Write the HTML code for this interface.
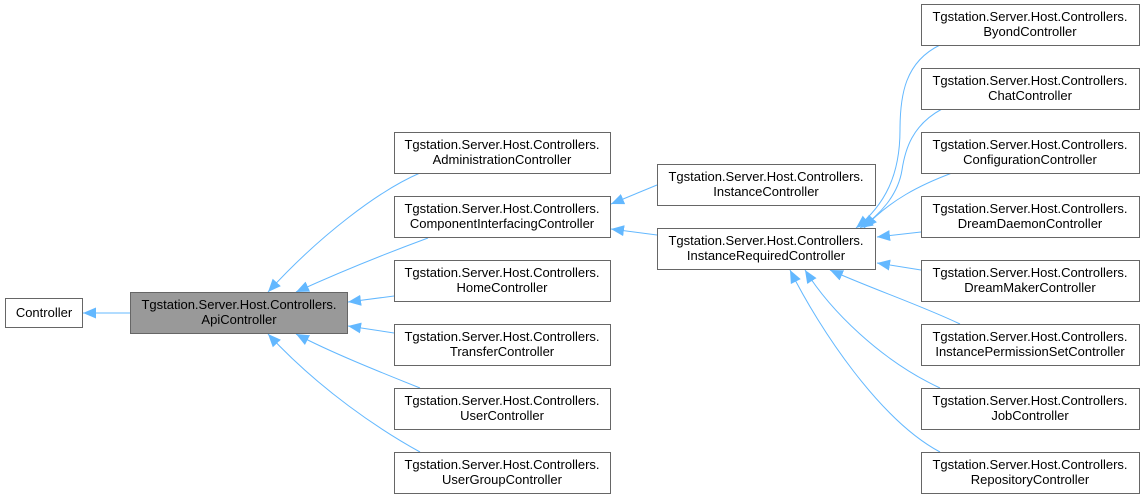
<!DOCTYPE html>
<html><head><meta charset="utf-8"><style>
html,body{margin:0;padding:0;background:#fff;}
svg{display:block;}
text{font-family:"Liberation Sans",Helvetica,Arial,sans-serif;font-size:13px;fill:#000;}
</style></head><body>
<svg width="1144" height="499" viewBox="0 0 1144 499" xmlns="http://www.w3.org/2000/svg">
<defs>
<marker id="a" markerUnits="userSpaceOnUse" markerWidth="14" markerHeight="12" refX="13" refY="6" orient="auto">
<path d="M0,0.5 L13,6 L0,11.5 Z" fill="#63b8ff"/>
</marker>
</defs>
<g fill="none" stroke="#63b8ff" stroke-width="1" marker-end="url(#a)">
<path d="M130,313 L83,313"/>
<path d="M420,173 C380,190 320,235 268,292"/>
<path d="M428,238 C390,252 340,272 296,292"/>
<path d="M394,296 L348,302"/>
<path d="M394,333 L348,326"/>
<path d="M420,388 C380,372 330,352 296,334"/>
<path d="M420,452 C380,430 320,390 268,334"/>
<path d="M657,185 L611,204"/>
<path d="M657,235 L611,229"/>
<path d="M940,45 C905,62 900,95 900,130 C900,175 885,205 856,228"/>
<path d="M942,109 C912,125 905,150 902,170 C898,195 880,215 860,228"/>
<path d="M952,173 C920,185 890,200 864,228"/>
<path d="M921,232 L877,237"/>
<path d="M921,270 L877,263"/>
<path d="M960,324 C920,305 870,288 830,270"/>
<path d="M940,388 C880,360 830,310 805,270"/>
<path d="M940,452 C880,420 820,330 790,270"/>
</g>
<g stroke="#666" stroke-width="1">
<rect x="5.5" y="298.5" width="77" height="29" fill="#fff"/>
<rect x="130.5" y="292.5" width="217" height="41" fill="#999"/>
<rect x="394.5" y="132.5" width="216" height="41" fill="#fff"/>
<rect x="394.5" y="196.5" width="216" height="41" fill="#fff"/>
<rect x="394.5" y="260.5" width="216" height="41" fill="#fff"/>
<rect x="394.5" y="324.5" width="216" height="41" fill="#fff"/>
<rect x="394.5" y="388.5" width="216" height="41" fill="#fff"/>
<rect x="394.5" y="452.5" width="216" height="41" fill="#fff"/>
<rect x="657.5" y="164.5" width="218" height="41" fill="#fff"/>
<rect x="657.5" y="228.5" width="218" height="41" fill="#fff"/>
<rect x="921.5" y="4.5" width="218" height="41" fill="#fff"/>
<rect x="921.5" y="68.5" width="218" height="41" fill="#fff"/>
<rect x="921.5" y="132.5" width="218" height="41" fill="#fff"/>
<rect x="921.5" y="196.5" width="218" height="41" fill="#fff"/>
<rect x="921.5" y="260.5" width="218" height="41" fill="#fff"/>
<rect x="921.5" y="324.5" width="218" height="41" fill="#fff"/>
<rect x="921.5" y="388.5" width="218" height="41" fill="#fff"/>
<rect x="921.5" y="452.5" width="218" height="41" fill="#fff"/>
</g>
<g text-anchor="middle">
<text x="44" y="317">Controller</text>
<text x="239" y="309">Tgstation.Server.Host.Controllers.</text><text x="239" y="324">ApiController</text>
<text x="502" y="149">Tgstation.Server.Host.Controllers.</text><text x="502" y="164">AdministrationController</text>
<text x="502" y="213">Tgstation.Server.Host.Controllers.</text><text x="502" y="228">ComponentInterfacingController</text>
<text x="502" y="277">Tgstation.Server.Host.Controllers.</text><text x="502" y="292">HomeController</text>
<text x="502" y="341">Tgstation.Server.Host.Controllers.</text><text x="502" y="356">TransferController</text>
<text x="502" y="405">Tgstation.Server.Host.Controllers.</text><text x="502" y="420">UserController</text>
<text x="502" y="469">Tgstation.Server.Host.Controllers.</text><text x="502" y="484">UserGroupController</text>
<text x="766" y="181">Tgstation.Server.Host.Controllers.</text><text x="766" y="196">InstanceController</text>
<text x="766" y="245">Tgstation.Server.Host.Controllers.</text><text x="766" y="260">InstanceRequiredController</text>
<text x="1030" y="21">Tgstation.Server.Host.Controllers.</text><text x="1030" y="36">ByondController</text>
<text x="1030" y="85">Tgstation.Server.Host.Controllers.</text><text x="1030" y="100">ChatController</text>
<text x="1030" y="149">Tgstation.Server.Host.Controllers.</text><text x="1030" y="164">ConfigurationController</text>
<text x="1030" y="213">Tgstation.Server.Host.Controllers.</text><text x="1030" y="228">DreamDaemonController</text>
<text x="1030" y="277">Tgstation.Server.Host.Controllers.</text><text x="1030" y="292">DreamMakerController</text>
<text x="1030" y="341">Tgstation.Server.Host.Controllers.</text><text x="1030" y="356">InstancePermissionSetController</text>
<text x="1030" y="405">Tgstation.Server.Host.Controllers.</text><text x="1030" y="420">JobController</text>
<text x="1030" y="469">Tgstation.Server.Host.Controllers.</text><text x="1030" y="484">RepositoryController</text>
</g>
</svg>
</body></html>
